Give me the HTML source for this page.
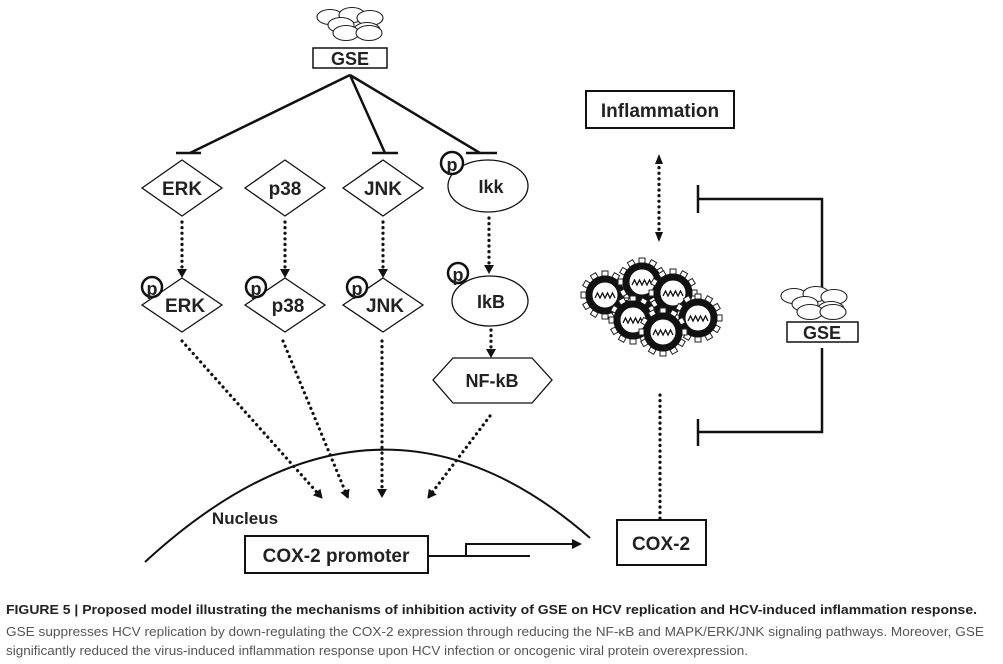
<!DOCTYPE html>
<html><head><meta charset="utf-8"><style>
html,body{margin:0;padding:0;background:#fff;}
svg{display:block;}
text{font-family:"Liberation Sans",sans-serif;}
</style></head><body>
<svg width="1003" height="664" viewBox="0 0 1003 664" xmlns="http://www.w3.org/2000/svg">
<defs>
<marker id="ah" markerWidth="10" markerHeight="10" refX="8" refY="5" orient="auto" markerUnits="userSpaceOnUse">
<path d="M0,0 L9,5 L0,10 Z" fill="#111"/></marker>
<g id="clouds" fill="#fff" stroke="#222" stroke-width="1.1">
<ellipse cx="-20" cy="-9" rx="13" ry="7.5"/><ellipse cx="2" cy="-11" rx="13" ry="7.5"/><ellipse cx="20" cy="-8" rx="13" ry="7.5"/>
<ellipse cx="17" cy="4" rx="13" ry="7.5"/><ellipse cx="-9" cy="-1" rx="13" ry="7.5"/><ellipse cx="-4" cy="7" rx="13" ry="7.5"/><ellipse cx="19" cy="7" rx="13" ry="7.5"/>
</g>
<g id="vir">
<g fill="#fff" stroke="#222" stroke-width="1">
<rect x="-3" y="-24" width="6" height="5" transform="rotate(0)"/><rect x="-3" y="-24" width="6" height="5" transform="rotate(30)"/><rect x="-3" y="-24" width="6" height="5" transform="rotate(60)"/><rect x="-3" y="-24" width="6" height="5" transform="rotate(90)"/><rect x="-3" y="-24" width="6" height="5" transform="rotate(120)"/><rect x="-3" y="-24" width="6" height="5" transform="rotate(150)"/><rect x="-3" y="-24" width="6" height="5" transform="rotate(180)"/><rect x="-3" y="-24" width="6" height="5" transform="rotate(210)"/><rect x="-3" y="-24" width="6" height="5" transform="rotate(240)"/><rect x="-3" y="-24" width="6" height="5" transform="rotate(270)"/><rect x="-3" y="-24" width="6" height="5" transform="rotate(300)"/><rect x="-3" y="-24" width="6" height="5" transform="rotate(330)"/>
</g>
<circle r="16" fill="#fff" stroke="#111" stroke-width="7"/>
<path d="M-10,3 l2.5,-5 l2.5,5 l2.5,-5 l2.5,5 l2.5,-5 l2.5,5 l2.5,-5 l2.5,5" fill="none" stroke="#111" stroke-width="1.3"/>
</g>
</defs>
<g stroke="#111" fill="none">
<use href="#clouds" x="350" y="26"/>
<rect x="313" y="48" width="74" height="20" stroke-width="1.5" fill="#fff"/>
<path d="M350,75 L190,153 M350,75 L385,153 M350,75 L480,153" stroke-width="2.5"/>
<path d="M176,153 H201 M372,153 H398 M466,153 H497" stroke-width="2.5"/>
<polygon points="142,188 182,160 222,188 182,216" stroke-width="1.3" fill="#fff"/>
<polygon points="245,188 285,160 325,188 285,216" stroke-width="1.3" fill="#fff"/>
<polygon points="343,188 383,160 423,188 383,216" stroke-width="1.3" fill="#fff"/>
<ellipse cx="488" cy="186" rx="40" ry="26" stroke-width="1.3" fill="#fff"/>
<circle cx="452" cy="163" r="11" stroke-width="2.5" fill="#fff"/>
<g stroke-width="3.2" stroke-dasharray="0.1,5.5" stroke-linecap="round" marker-end="url(#ah)">
<path d="M182,222 V277"/><path d="M285,222 V277"/><path d="M383,222 V277"/><path d="M489,218 V273"/>
<path d="M491,330 V357"/>
</g>
<polygon points="142,305 182,278 222,305 182,332" stroke-width="1.3" fill="#fff"/>
<polygon points="245,305 285,278 325,305 285,332" stroke-width="1.3" fill="#fff"/>
<polygon points="343,305 383,278 423,305 383,332" stroke-width="1.3" fill="#fff"/>
<ellipse cx="490" cy="301" rx="38" ry="25" stroke-width="1.3" fill="#fff"/>
<circle cx="152" cy="287" r="10" stroke-width="2.5" fill="#fff"/>
<circle cx="256" cy="287" r="10" stroke-width="2.5" fill="#fff"/>
<circle cx="357" cy="287" r="10" stroke-width="2.5" fill="#fff"/>
<circle cx="458" cy="273" r="10" stroke-width="2.5" fill="#fff"/>
<polygon points="433,380 453,358 532,358 552,380 532,403 453,403" stroke-width="1.3" fill="#fff"/>
<g stroke-width="3.2" stroke-dasharray="0.1,5.5" stroke-linecap="round" marker-end="url(#ah)">
<path d="M182,341 L322,498"/><path d="M283,341 L348,498"/><path d="M382,341 V497"/><path d="M490,416 L428,498"/>
</g>
<path d="M145,562 Q375,350 590,538" stroke-width="2"/>
<rect x="245" y="536" width="183" height="37" stroke-width="2" fill="#fff"/>
<path d="M428,556 H530 M466,556 V544 H572" stroke-width="2"/>
<path d="M572,539 L582,544 L572,549 Z" fill="#111" stroke="none"/>
<rect x="617" y="520" width="89" height="45" stroke-width="2" fill="#fff"/>
<path d="M660,395 V519" stroke-width="3.2" stroke-dasharray="0.1,5.5" stroke-linecap="round"/>
<rect x="586" y="91" width="148" height="37" stroke-width="2" fill="#fff"/>
<path d="M659,162 V233" stroke-width="3.2" stroke-dasharray="0.1,5.5" stroke-linecap="round"/>
<path d="M655,164 L659,154 L663,164 Z M655,232 L659,242 L663,232 Z" fill="#111" stroke="none"/>
<path d="M698,199 H822 V290 M822,348 V432 H698" stroke-width="2.5"/>
<path d="M698,185 V213 M698,419 V446" stroke-width="2.5"/>
<use href="#clouds" x="814" y="305"/>
<rect x="787" y="322" width="71" height="20" stroke-width="1.5" fill="#fff"/>
</g>
<rect x="620" y="300" width="50" height="25" fill="#111"/>
<use href="#vir" x="605" y="295"/><use href="#vir" x="642" y="282"/><use href="#vir" x="673" y="293"/>
<use href="#vir" x="698" y="318"/><use href="#vir" x="633" y="320"/><use href="#vir" x="663" y="332"/>
<g font-weight="bold" fill="#222" text-anchor="middle" font-size="19">
<text x="350" y="65" font-size="18">GSE</text>
<text x="182" y="195">ERK</text><text x="285" y="195">p38</text><text x="383" y="195">JNK</text>
<text x="491" y="193" font-size="18">Ikk</text>
<text x="452" y="171" font-size="18">p</text>
<text x="185" y="312">ERK</text><text x="288" y="312">p38</text><text x="385" y="312">JNK</text>
<text x="152" y="295" font-size="18">p</text><text x="256" y="295" font-size="18">p</text><text x="357" y="295" font-size="18">p</text><text x="458" y="281" font-size="18">p</text>
<text x="491" y="308" font-size="18">IkB</text>
<text x="492" y="387" font-size="18">NF-kB</text>
<text x="660" y="117">Inflammation</text>
<text x="822" y="339" font-size="18">GSE</text>
<text x="245" y="524" font-size="17">Nucleus</text>
<text x="336" y="562">COX-2 promoter</text>
<text x="661" y="550">COX-2</text>
</g>
<g fill="#222" font-size="13">
<text x="6" y="614" font-weight="bold" textLength="971" lengthAdjust="spacingAndGlyphs">FIGURE 5 | Proposed model illustrating the mechanisms of inhibition activity of GSE on HCV replication and HCV-induced inflammation response.</text>
<text x="6" y="636" fill="#555" textLength="978" lengthAdjust="spacingAndGlyphs">GSE suppresses HCV replication by down-regulating the COX-2 expression through reducing the NF-κB and MAPK/ERK/JNK signaling pathways. Moreover, GSE</text>
<text x="6" y="655" fill="#555" textLength="742" lengthAdjust="spacingAndGlyphs">significantly reduced the virus-induced inflammation response upon HCV infection or oncogenic viral protein overexpression.</text>
</g>
</svg>
</body></html>
